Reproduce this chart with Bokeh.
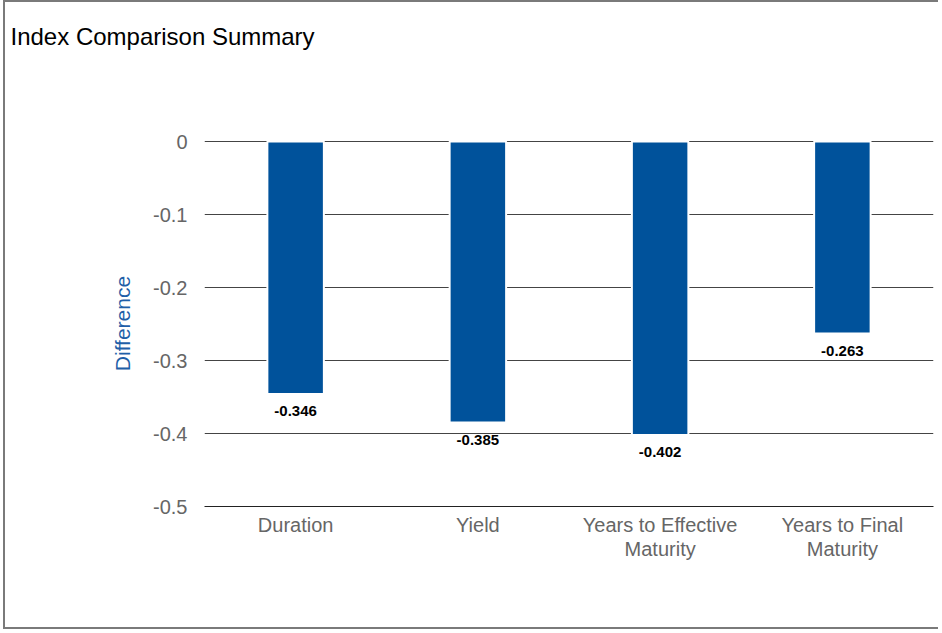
from bokeh.plotting import figure
from bokeh.models import FactorRange, Range1d, FixedTicker, ColumnDataSource, Title
from bokeh.core.properties import value
from bokeh.embed import file_html
from bokeh.resources import INLINE

categories = ["Duration", "Yield", "Years to Effective\nMaturity", "Years to Final\nMaturity"]
differences = [-0.346, -0.385, -0.402, -0.263]
label_texts = ["-0.346", "-0.385", "-0.402", "-0.263"]
y_ticks = [-0.5, -0.4, -0.3, -0.2, -0.1, 0.0]
chart_title = "Index Comparison Summary"

src = ColumnDataSource(dict(cat=categories, val=differences, lab=label_texts))

p = figure(
    x_range=FactorRange(*categories),
    y_range=Range1d(-0.5, 0.0015),
    width=935, height=629,
    output_backend="svg", toolbar_location=None,
    min_border_left=199, min_border_right=7,
    min_border_top=138, min_border_bottom=125,
)
p.title = None
p.styles = {"margin-left": "3px",
            "border-left": "2px solid #7a7a7a", "border-top": "2px solid #7a7a7a",
            "border-bottom": "2px solid #7a7a7a"}
p.outline_line_color = None
p.background_fill_color = "white"
p.border_fill_color = "white"

spacer = Title(text=" ", text_font_size="1px", standoff=88)
p.add_layout(spacer, "above")
main_title = Title(text=chart_title, text_font="Liberation Sans", text_font_size="24px",
                   text_font_style="normal", text_color="black", align="left",
                   offset=-194, standoff=0)
p.add_layout(main_title, "above")

p.vbar(x="cat", top=0, bottom="val", width=0.31, source=src,
       fill_color="#00529B", line_color="white", line_width=2)

p.text(x="cat", y="val", text="lab", source=src, text_align="center",
       text_baseline="middle", y_offset=17, text_font=value("Liberation Sans"),
       text_font_size="15px", text_font_style="bold", text_color="black")

p.xgrid.grid_line_color = None
p.ygrid.ticker = FixedTicker(ticks=y_ticks)
p.ygrid.grid_line_color = "#444444"
p.ygrid.grid_line_width = 1
p.ygrid.level = "underlay"

p.yaxis.ticker = FixedTicker(ticks=y_ticks)
p.yaxis.major_label_overrides = {0: "0", -0.1: "-0.1", -0.2: "-0.2", -0.3: "-0.3", -0.4: "-0.4", -0.5: "-0.5"}
p.yaxis.axis_line_color = None
p.yaxis.major_tick_line_color = None
p.yaxis.minor_tick_line_color = None
p.yaxis.major_tick_out = 0
p.yaxis.major_tick_in = 0
p.yaxis.minor_tick_out = 0
p.yaxis.major_label_standoff = 17
p.yaxis.major_label_text_font = "Liberation Sans"
p.yaxis.major_label_text_font_size = "20px"
p.yaxis.major_label_text_color = "#666666"
p.yaxis.axis_label = "Difference"
p.yaxis.axis_label_text_font = "Liberation Sans"
p.yaxis.axis_label_text_font_size = "21px"
p.yaxis.axis_label_text_font_style = "normal"
p.yaxis.axis_label_text_color = "#1f5fa8"
p.yaxis.axis_label_standoff = 16

p.xaxis.axis_line_color = "#222222"
p.xaxis.axis_line_width = 1
p.xaxis.major_tick_line_color = None
p.xaxis.minor_tick_line_color = None
p.xaxis.major_tick_out = 0
p.xaxis.major_tick_in = 0
p.xaxis.major_label_standoff = 7
p.xaxis.major_label_text_font = "Liberation Sans"
p.xaxis.major_label_text_font_size = "20px"
p.xaxis.major_label_text_line_height = 1.1
p.xaxis.major_label_text_color = "#666666"
p.xaxis.major_label_orientation = "horizontal"

open("out.html", "w").write(file_html(p, INLINE))
